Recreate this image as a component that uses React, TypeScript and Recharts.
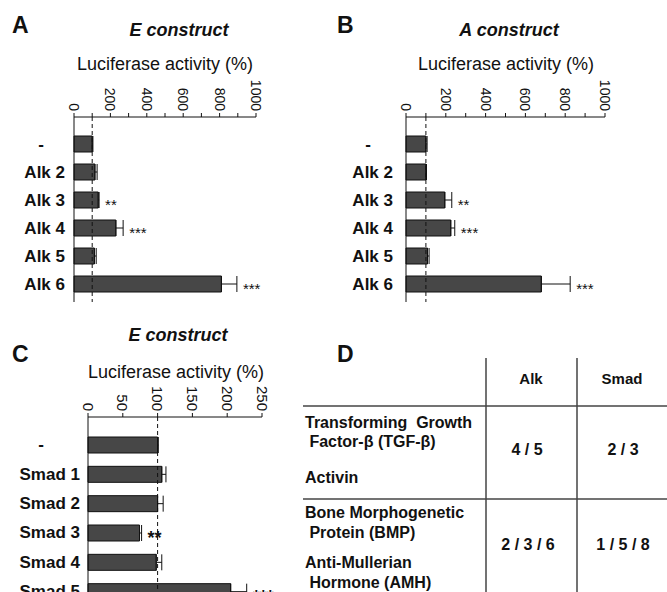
import React from "react";
import {
  BarChart,
  Bar,
  XAxis,
  YAxis,
  ErrorBar,
  ReferenceLine,
  LabelList,
} from "recharts";

const FONT = "'Liberation Sans', Arial, Helvetica, sans-serif";

// panel A / B categories
const alkLabels = ["-", "Alk 2", "Alk 3", "Alk 4", "Alk 5", "Alk 6"];
// A: E construct
const eConstructValues = [100, 115, 133, 230, 112, 810];
const eConstructErrors = [4, 12, 5, 40, 10, 85];
const eConstructStars = ["", "", "**", "***", "", "***"];
// B: A construct
const aConstructValues = [100, 100, 195, 225, 108, 680];
const aConstructErrors = [6, 3, 35, 20, 8, 145];
const aConstructStars = ["", "", "**", "***", "", "***"];
// C: Smads, E construct
const smadLabels = ["-", "Smad 1", "Smad 2", "Smad 3", "Smad 4", "Smad 5"];
const smadValues = [100, 106, 100, 74, 98, 205];
const smadErrors = [1, 6, 8, 3, 8, 23];
const smadStars = ["", "", "", "**", "", "***"];

const alkTicks = [0, 100, 200, 300, 400, 500, 600, 700, 800, 900, 1000];
const smadTicks = [0, 50, 100, 150, 200, 250];

// D: table
const tableHeaders = ["Alk", "Smad"];
const tableRow1 = ["Transforming  Growth", " Factor-β (TGF-β)", "Activin"];
const tableRow2 = ["Bone Morphogenetic", " Protein (BMP)", "Anti-Mullerian", " Hormone (AMH)"];
const tableAlk = ["4 / 5", "2 / 3 / 6"];
const tableSmad = ["2 / 3", "1 / 5 / 8"];

const XTick = ({ x, y, payload, step, fontSize }: any) => {
  if (payload.value % step !== 0) return null;
  return (
    <text
      x={x}
      y={y}
      transform={`rotate(90, ${x}, ${y})`}
      textAnchor="end"
      dominantBaseline="central"
      fontSize={fontSize}
      fontFamily={FONT}
      fill="#111"
    >
      {payload.value}
    </text>
  );
};

const YTick = ({ y, payload, labelRight, dashX }: any) => {
  const isDash = payload.value === "-";
  return (
    <text
      x={isDash ? dashX : labelRight}
      y={y}
      textAnchor={isDash ? "middle" : "end"}
      dominantBaseline="central"
      fontSize={17}
      fontWeight="bold"
      fontFamily={FONT}
      fill="#111"
    >
      {payload.value}
    </text>
  );
};

const Panel = ({
  labels,
  values,
  errors,
  stars,
  ticks,
  step,
  left,
  top,
  width,
  height,
  margin,
  padTop,
  padBottom,
  labelRight,
  dashX,
  starSize,
  starBold,
  tickFont,
}: any) => {
  const data = labels.map((name: string, i: number) => ({
    name,
    value: values[i],
    err: [0, errors[i]],
    stars: stars[i],
  }));
  const max = ticks[ticks.length - 1];

  const renderStars = (props: any) => {
    const { index } = props;
    const vb = props.viewBox || props;
    const s = stars[index];
    if (!s) return null;
    const bx = vb.x ?? props.x;
    const by = vb.y ?? props.y;
    const bw = vb.width ?? props.width;
    const bh = vb.height ?? props.height;
    const end = bx + (bw * (values[index] + errors[index])) / values[index];
    return (
      <text
        x={end + 6}
        y={by + bh / 2 + starSize * 0.28}
        dominantBaseline="central"
        fontSize={starSize}
        fontWeight={starBold ? "bold" : "normal"}
        fontFamily={FONT}
        fill="#111"
      >
        {s}
      </text>
    );
  };

  return (
    <div style={{ position: "absolute", left, top }}>
      <BarChart width={width} height={height} data={data} layout="vertical" margin={margin}>
        <XAxis
          type="number"
          orientation="top"
          domain={[0, max]}
          ticks={ticks}
          interval={0}
          height={40}
          axisLine={{ stroke: "#111" }}
          tickLine={{ stroke: "#111" }}
          tickSize={4}
          tick={<XTick step={step} fontSize={tickFont} />}
        />
        <YAxis
          type="category"
          dataKey="name"
          width={70}
          interval={0}
          tickLine={false}
          axisLine={{ stroke: "#111" }}
          padding={{ top: padTop, bottom: padBottom }}
          tick={<YTick labelRight={labelRight} dashX={dashX} />}
        />
        <ReferenceLine x={100} stroke="#111" strokeDasharray="4 3" />
        <Bar
          dataKey="value"
          fill="#474747"
          stroke="#111"
          strokeWidth={1}
          barSize={16}
          isAnimationActive={false}
        >
          <ErrorBar dataKey="err" direction="x" width={8} stroke="#111" strokeWidth={1} />
          <LabelList dataKey="stars" content={renderStars} />
        </Bar>
      </BarChart>
    </div>
  );
};

const T = ({ x, y, children, size = 16, weight = "bold", italic = false, anchor = "start" }: any) => (
  <text
    x={x}
    y={y}
    fontSize={size}
    fontWeight={weight}
    fontStyle={italic ? "italic" : "normal"}
    textAnchor={anchor}
    fontFamily={FONT}
    fill="#111"
    style={{ whiteSpace: "pre" }}
  >
    {children}
  </text>
);

export default function App() {
  return (
    <div
      style={{
        position: "absolute",
        left: 0,
        top: 0,
        width: 667,
        height: 592,
        overflow: "hidden",
        background: "#fff",
      }}
    >
      <Panel
        labels={alkLabels}
        values={eConstructValues}
        errors={eConstructErrors}
        stars={eConstructStars}
        ticks={alkTicks}
        step={200}
        left={0}
        top={0}
        width={300}
        height={310}
        margin={{ top: 77, right: 44, bottom: 8, left: 4 }}
        padTop={13}
        padBottom={4}
        labelRight={65}
        dashX={41}
        starSize={15}
        starBold={false}
        tickFont={14}
      />
      <Panel
        labels={alkLabels}
        values={aConstructValues}
        errors={aConstructErrors}
        stars={aConstructStars}
        ticks={alkTicks}
        step={200}
        left={330}
        top={0}
        width={320}
        height={310}
        margin={{ top: 77, right: 45, bottom: 8, left: 6 }}
        padTop={13}
        padBottom={4}
        labelRight={63}
        dashX={38}
        starSize={15}
        starBold={false}
        tickFont={14}
      />
      <Panel
        labels={smadLabels}
        values={smadValues}
        errors={smadErrors}
        stars={smadStars}
        ticks={smadTicks}
        step={50}
        left={0}
        top={300}
        width={290}
        height={320}
        margin={{ top: 77, right: 28, bottom: 4, left: 18 }}
        padTop={13}
        padBottom={10}
        labelRight={80}
        dashX={41}
        starSize={18}
        starBold={true}
        tickFont={15}
      />
      <svg
        width={667}
        height={592}
        style={{ position: "absolute", left: 0, top: 0, pointerEvents: "none" }}
      >
        <T x={12} y={33} size={23}>A</T>
        <T x={337} y={33} size={23}>B</T>
        <T x={12} y={362} size={23}>C</T>
        <T x={337} y={362} size={23}>D</T>

        <T x={179} y={36} size={18} italic anchor="middle">E construct</T>
        <T x={509} y={36} size={18} italic anchor="middle">A construct</T>
        <T x={178} y={341} size={18} italic anchor="middle">E construct</T>

        <T x={165} y={70} size={18} weight="normal" anchor="middle">Luciferase activity (%)</T>
        <T x={506} y={70} size={18} weight="normal" anchor="middle">Luciferase activity (%)</T>
        <T x={176} y={378} size={18} weight="normal" anchor="middle">Luciferase activity (%)</T>

        <g stroke="#444" strokeWidth={1.5}>
          <line x1={486} y1={358} x2={486} y2={592} />
          <line x1={577} y1={358} x2={577} y2={592} />
          <line x1={303} y1={406} x2={667} y2={406} />
          <line x1={303} y1={499} x2={667} y2={499} />
        </g>
        <T x={531} y={384} size={15} anchor="middle">{tableHeaders[0]}</T>
        <T x={622} y={384} size={15} anchor="middle">{tableHeaders[1]}</T>

        <T x={305} y={428} size={16}>{tableRow1[0]}</T>
        <T x={305} y={447} size={16}>{tableRow1[1]}</T>
        <T x={305} y={483} size={16}>{tableRow1[2]}</T>
        <T x={527} y={455} size={16} anchor="middle">{tableAlk[0]}</T>
        <T x={623} y={455} size={16} anchor="middle">{tableSmad[0]}</T>

        <T x={305} y={518} size={16}>{tableRow2[0]}</T>
        <T x={305} y={538} size={16}>{tableRow2[1]}</T>
        <T x={305} y={568} size={16}>{tableRow2[2]}</T>
        <T x={305} y={588} size={16}>{tableRow2[3]}</T>
        <T x={528} y={550} size={16} anchor="middle">{tableAlk[1]}</T>
        <T x={623} y={550} size={16} anchor="middle">{tableSmad[1]}</T>
      </svg>
    </div>
  );
}
